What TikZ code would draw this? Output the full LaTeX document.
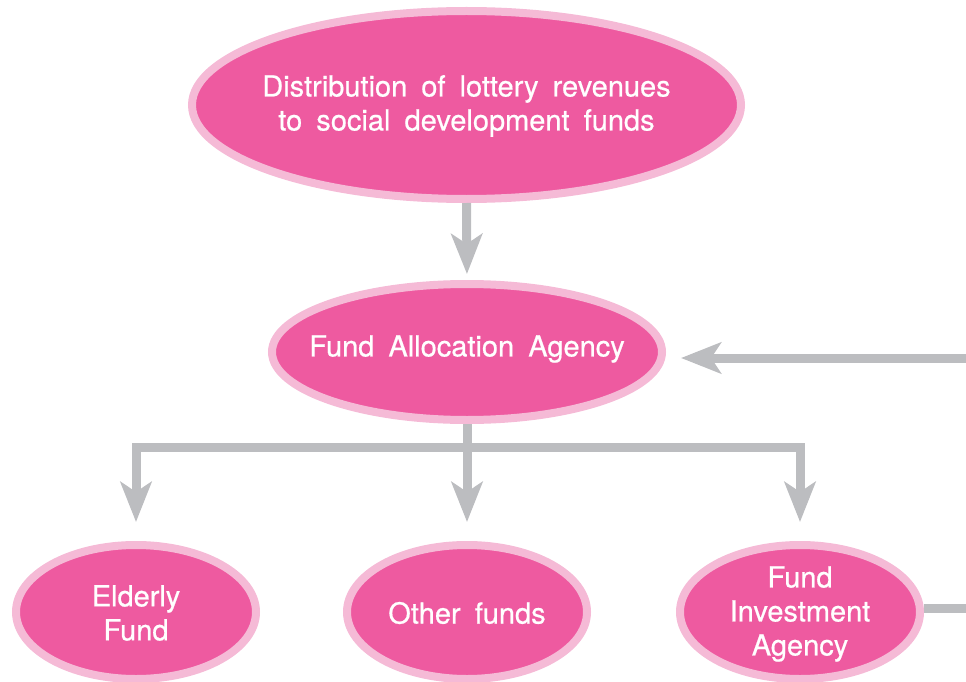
\documentclass[tikz,border=0pt]{standalone}
\usepackage{fontspec}
\setmainfont{TeX Gyre Heros}[WordSpace=1.75, FakeBold=0.6]
\usetikzlibrary{shapes.geometric,arrows.meta}

\definecolor{blobfill}{HTML}{EE5AA0}
\definecolor{blobring}{HTML}{F5BAD6}
\definecolor{linkgray}{HTML}{BCBDC0}

\tikzset{
  blob/.style={ellipse, fill=blobfill, draw=blobring, line width=8pt, inner sep=0pt},
  bigblob/.style={blob, minimum width=549pt, minimum height=188pt},
  midblob/.style={blob, minimum width=390pt, minimum height=136pt},
  smallblob/.style={blob, minimum width=240pt, minimum height=134pt},
  blobtext/.style={text=white, align=center, inner sep=0pt,
    font=\fontsize{29}{34}\selectfont},
  link/.style={draw=linkgray, line width=9pt, line join=miter,
    -{Stealth[length=40pt, width=31pt, inset=10pt]}},
}

\begin{document}
\begin{tikzpicture}[x=1pt, y=-1pt]
  \useasboundingbox (0,0) rectangle (966,682);
  \clip (0,0) rectangle (966,682);

  % ellipses
  \node[bigblob]   (src) at (466.5,105) {};
  \node[midblob]   (fa)  at (467,352)   {};
  \node[smallblob] (ef)  at (136,612)   {};
  \node[smallblob] (of)  at (467,612)   {};
  \node[smallblob] (fia) at (800,612)   {};

  % texts
  \node[blobtext] (src-t) at (466.5,106) {Distribution of lottery revenues\\to social development funds};
  \node[blobtext] (fa-t)  at (467,349)   {Fund Allocation Agency};
  \node[blobtext] (ef-t)  at (136,613)   {Elderly\\Fund};
  \node[blobtext] (of-t)  at (467,613)   {Other funds};
  \node[blobtext] (fia-t) at (800,614)   {Fund\\Investment\\Agency};

  % connectors
  \coordinate (fork) at (467,447.5);
  \draw[link, shorten >=6pt]  (src.south) -- (fa.north);
  \draw[link, shorten >=19pt] (fa.south) -- (of.north);
  \draw[link, shorten >=19pt] (fork) -| (ef.north);
  \draw[link, shorten >=19pt] (fork) -| (fia.north);
  \draw[link, shorten >=15pt] ([yshift=4pt]fia.east) -- ++(80,0) |- ([yshift=-6pt]fa.east);
\end{tikzpicture}
\end{document}
